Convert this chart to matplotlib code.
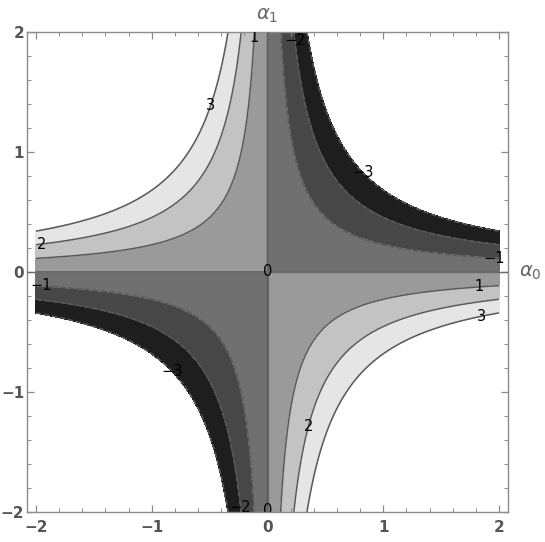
"""Contour plot of f(a0, a1) = -k * a0 * a1, grey bands between integer levels."""

import matplotlib
matplotlib.use("Agg")
import matplotlib.pyplot as plt
from matplotlib.ticker import MultipleLocator
import numpy as np

# ---------- data -----------------------------------------------------------
COUPLING = 4.4                      # f = -COUPLING * a0 * a1
LEVELS = [-3, -2, -1, 0, 1, 2, 3]
BAND_COLORS = ["#1e1e1e", "#474747", "#707070", "#9a9a9a", "#c3c3c3", "#e5e5e5"]
TICKS = [-2, -1, 0, 1, 2]
TICK_LABELS = ["\u22122", "\u22121", "0", "1", "2"]

# where the level labels sit (near the curve they belong to)
LABEL_SPOTS = [
    (-0.08, 1.95), (0.23, 1.93), (-0.46, 1.38), (-1.95, 0.23),
    (-1.96, -0.12), (0.0, 0.0), (-0.82, -0.83), (-0.22, -1.96),
    (0.0, -1.99), (0.37, -1.29), (1.83, -0.13), (1.85, -0.37),
    (1.96, 0.10), (0.83, 0.83),
]

a0 = np.linspace(-2, 2, 600)
a1 = np.linspace(-2, 2, 600)
A0, A1 = np.meshgrid(a0, a1)
F = -COUPLING * A0 * A1

# ---------- figure ---------------------------------------------------------
fig = plt.figure(figsize=(5.45, 5.42), dpi=100)
ax = fig.add_axes([27 / 545, 30 / 542, 481 / 545, 480 / 542])

cf = ax.contourf(A0, A1, F, levels=LEVELS, colors=BAND_COLORS)
cf.set_edgecolor("face")
cf.set_linewidth(0.4)
cs = ax.contour(A0, A1, F, levels=LEVELS, colors="#5a5a5a", linewidths=1.1)

ax.axhline(0, color="#6a6a6a", linewidth=1.0, zorder=3)
ax.axvline(0, color="#6a6a6a", linewidth=1.0, zorder=3)

texts = ax.clabel(
    cs, inline=False, fontsize=10.5, colors="black",
    fmt=lambda v: f"{int(round(v))}".replace("-", "\u2212"),
    manual=LABEL_SPOTS,
)
for t in texts:
    t.set_rotation(0)
    t.set_clip_on(True)
    t.set_clip_box(ax.bbox)
    t.set_zorder(5)

ax.set_xlim(-2.078, 2.078)
ax.set_ylim(-2, 2)

frame_gray = "#8c8c8c"
for sp in ax.spines.values():
    sp.set_color(frame_gray)
    sp.set_linewidth(1.0)

ax.set_xticks(TICKS)
ax.set_xticklabels(TICK_LABELS)
ax.set_yticks(TICKS)
ax.set_yticklabels(TICK_LABELS)
ax.xaxis.set_minor_locator(MultipleLocator(0.2))
ax.yaxis.set_minor_locator(MultipleLocator(0.2))
ax.tick_params(which="both", direction="in", top=True, right=True, color=frame_gray)
ax.tick_params(which="major", length=5, width=0.9, labelsize=11, labelcolor="#555555")
ax.tick_params(which="minor", length=3, width=0.7)
ax.tick_params(axis="x", pad=6)
ax.tick_params(axis="y", pad=2)
for lab in ax.get_xticklabels() + ax.get_yticklabels():
    lab.set_fontweight("semibold")

ax.annotate(r"$\alpha_0$", xy=(1.0, 0.0), xycoords=("axes fraction", "data"),
            xytext=(8, 0), textcoords="offset points",
            ha="left", va="center", fontsize=14, color="#666666")
ax.annotate(r"$\alpha_1$", xy=(0.0, 1.0), xycoords=("data", "axes fraction"),
            xytext=(0, 5), textcoords="offset points",
            ha="center", va="bottom", fontsize=14, color="#666666")

fig.savefig("out.png", dpi=100, facecolor="white")
